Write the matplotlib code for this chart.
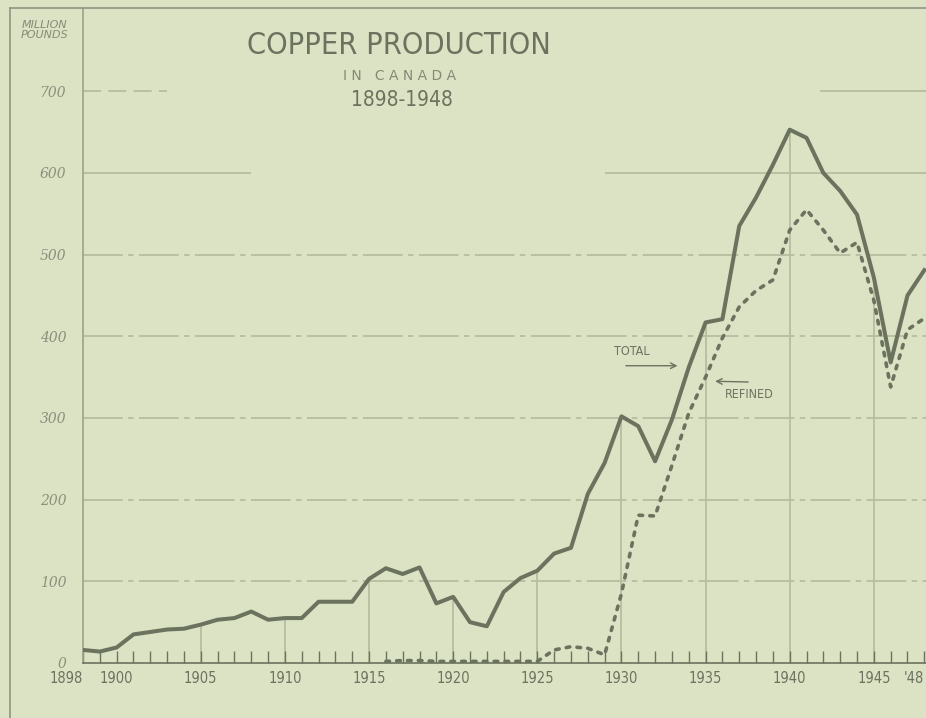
import matplotlib.pyplot as plt
from matplotlib.lines import Line2D

# values, million pounds
years = list(range(1898, 1949))
total = [16, 14, 19, 35, 38, 41, 42, 47, 53, 55,
         63, 53, 55, 55, 75, 75, 75, 103, 116, 109,
         117, 73, 81, 50, 45, 87, 104, 113, 134, 141,
         207, 245, 302, 290, 247, 298, 362, 417, 421, 535,
         570, 610, 653, 643, 600, 578, 549, 472, 368, 450,
         481]
refined_years = list(range(1916, 1949))
refined = [2, 3, 3, 2, 2, 2, 2, 2, 2, 2,
           16, 20, 18, 10, 85, 181, 180, 242, 306, 350,
           398, 436, 456, 469, 530, 555, 530, 502, 515, 444,
           338, 408, 422]
y_ticks = [0, 100, 200, 300, 400, 500, 600, 700]
x_labels = {1898: '1898', 1900: '1900', 1905: '1905', 1910: '1910', 1915: '1915',
            1920: '1920', 1925: '1925', 1930: '1930', 1935: '1935', 1940: '1940',
            1945: '1945', 1948: "'48"}

bg = '#dce3c4'
ink = '#6b735f'
grid = '#b6bda0'
cond = dict(family='DejaVu Sans', stretch='condensed')

fig = plt.figure(figsize=(9.26, 7.18), dpi=100, facecolor=bg)
ax = fig.add_axes([83 / 926, 55 / 718, 843 / 926, 655 / 718])
ax.set_facecolor(bg)
ax.set_xlim(1898, 1948.1)
ax.set_ylim(0, 802)

# horizontal rules, broken around the title
for v in [100, 200, 300, 400, 500]:
    ax.hlines(v, 1898, 1949, color=grid, lw=1.3, linestyles=(0, (22, 3, 3, 3)), zorder=1)
ax.hlines(600, 1898, 1908, color=grid, lw=1.3, zorder=1)
ax.hlines(600, 1929, 1949, color=grid, lw=1.3, zorder=1)
ax.hlines(700, 1898, 1903, color=grid, lw=1.3, linestyles=(0, (10, 4)), zorder=1)
ax.hlines(700, 1941.8, 1949, color=grid, lw=1.3, zorder=1)

# drop lines every five years
for yr in range(1905, 1950, 5):
    ax.vlines(yr, 0, total[years.index(yr)], color=grid, lw=1.3, zorder=1)

ax.plot(years, total, color=ink, lw=2.9, solid_joinstyle='round', zorder=3)
ax.plot(refined_years, refined, color=ink, lw=2.6, linestyle=(0, (1, 2)),
        dash_capstyle='round', zorder=3)

for s in ['top', 'right']:
    ax.spines[s].set_visible(False)
ax.spines['left'].set_color('#9aa188')
ax.spines['left'].set_linewidth(1.2)
ax.spines['bottom'].set_color(ink)
ax.spines['bottom'].set_linewidth(1.2)

ax.set_xticks(list(x_labels.keys()))
ax.set_xticklabels(list(x_labels.values()), fontsize=10.5, color=ink, **cond)
ax.set_xticks(years, minor=True)
ax.tick_params(axis='x', which='both', direction='in', length=9, width=1, color=ink, pad=6)
ax.get_xticklabels()[0].set_horizontalalignment('right')
ax.get_xticklabels()[-1].set_horizontalalignment('right')

ax.set_yticks(y_ticks)
ax.set_yticklabels([str(v) for v in y_ticks], style='italic', fontsize=10,
                   color='#8a907c', family='DejaVu Serif')
ax.tick_params(axis='y', length=0, pad=12)

fig.text(45 / 926, 1 - 30 / 718, 'MILLION\nPOUNDS', ha='center', va='center', style='italic',
         fontsize=8, color='#858b77', linespacing=1.0)

fig.text(399 / 926, 1 - 46 / 718, 'COPPER PRODUCTION', ha='center', va='center',
         fontsize=22, color=ink, **cond)
fig.text(400 / 926, 1 - 76 / 718, 'I N   C A N A D A', ha='center', va='center',
         fontsize=10, color='#838a75')
fig.text(402 / 926, 1 - 100 / 718, '1898-1948', ha='center', va='center',
         fontsize=15, color=ink, **cond)

ax.text(1930.6, 381, 'TOTAL', ha='center', va='center', fontsize=9, color=ink, **cond)
ax.annotate('', xy=(1933.5, 364), xytext=(1930.1, 364),
            arrowprops=dict(arrowstyle='->', color=ink, lw=1))
ax.text(1937.6, 329, 'REFINED', ha='center', va='center', fontsize=9, color=ink, **cond)
ax.annotate('', xy=(1935.4, 345), xytext=(1937.7, 344),
            arrowprops=dict(arrowstyle='->', color=ink, lw=1))

# outer frame of the plate
fig.add_artist(Line2D([10 / 926, 10 / 926], [0, 1 - 8 / 718], color='#8f9680', lw=1.2))
fig.add_artist(Line2D([10 / 926, 1], [1 - 8 / 718, 1 - 8 / 718], color='#8f9680', lw=1.2))

fig.savefig('out.png', dpi=100, facecolor=bg)
